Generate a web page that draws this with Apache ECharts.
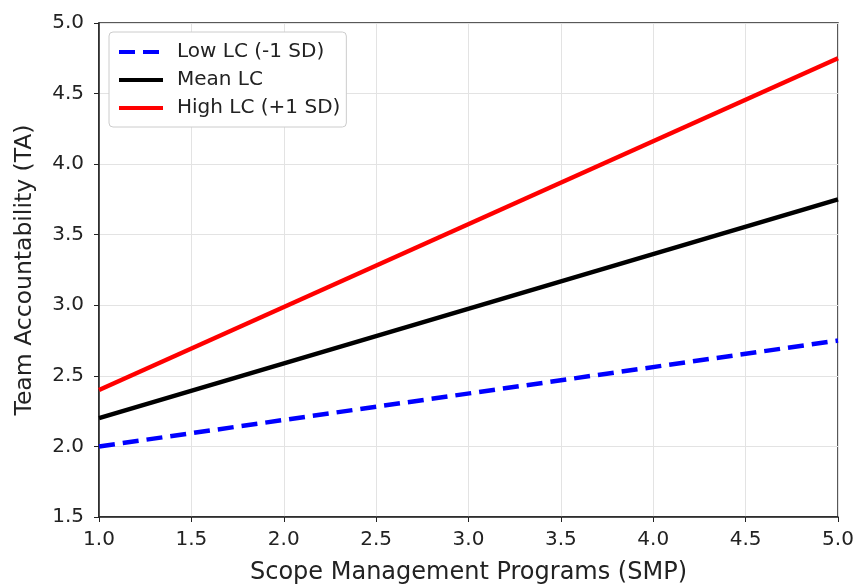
<!DOCTYPE html>
<html><head><meta charset="utf-8">
<script src="https://cdn.jsdelivr.net/npm/echarts@6/dist/echarts.min.js"></script>
<style>html,body{margin:0;padding:0;background:#fff}#c{width:857px;height:586px}</style>
</head><body><div id="c"></div>
<script>
const xValues = [1.0, 5.0];
const lowLC = [2.0, 2.75];
const meanLC = [2.2, 3.75];
const highLC = [2.4, 4.75];
const seriesNames = ['Low LC (-1 SD)', 'Mean LC', 'High LC (+1 SD)'];
const xTitle = 'Scope Management Programs (SMP)';
const yTitle = 'Team Accountability (TA)';

const font = 'DejaVu Sans';
const chart = echarts.init(document.getElementById('c'));
function mk(name, vals, color, type) {
  return {
    name, type: 'line', data: xValues.map((x, i) => [x, vals[i]]),
    showSymbol: false, symbol: 'none',
    lineStyle: { color, width: 4.5, type }, itemStyle: { color },
    z: 5
  };
}
chart.setOption({
  animation: false,
  grid: { left: 99, right: 19, top: 23, bottom: 69, outerBoundsMode: 'none', containLabel: false, show: true, borderColor: '#222', borderWidth: 1.5, backgroundColor: 'transparent' },
  legend: {
    left: 109, top: 32, orient: 'vertical', itemWidth: 44, itemHeight: 14, itemGap: 8,
    padding: [10, 6, 9, 8],
    backgroundColor: '#fff', borderColor: '#ccc', borderWidth: 1, borderRadius: 4,
    itemStyle: { opacity: 0 },
    lineStyle: { width: 4 },
    textStyle: { fontFamily: font, fontSize: 20, color: '#222', padding: [0, 0, 0, 9] },
    data: seriesNames
  },
  xAxis: {
    type: 'value', min: 1.0, max: 5.0, interval: 0.5,
    name: xTitle, nameLocation: 'middle', nameGap: 44,
    nameTextStyle: { fontFamily: font, fontSize: 24, color: '#222' },
    axisLine: { show: true, lineStyle: { color: '#222', width: 1.5 } },
    axisTick: { show: true, length: 5, lineStyle: { color: '#222' } },
    axisLabel: { fontFamily: font, fontSize: 20, color: '#222', margin: 13, formatter: v => v.toFixed(1) },
    splitLine: { show: true, lineStyle: { color: '#e3e3e3', width: 1 } }
  },
  yAxis: {
    type: 'value', min: 1.5, max: 5.0, interval: 0.5,
    name: yTitle, nameLocation: 'middle', nameGap: 62,
    nameTextStyle: { fontFamily: font, fontSize: 23.5, color: '#222' },
    axisLine: { show: true, lineStyle: { color: '#222', width: 1.5 } },
    axisTick: { show: true, length: 5, lineStyle: { color: '#222' } },
    axisLabel: { fontFamily: font, fontSize: 20, color: '#222', margin: 15, formatter: v => v.toFixed(1) },
    splitLine: { show: true, lineStyle: { color: '#e3e3e3', width: 1 } }
  },
  series: [
    mk(seriesNames[0], lowLC, '#0000ff', [16, 8]),
    mk(seriesNames[1], meanLC, '#000000', 'solid'),
    mk(seriesNames[2], highLC, '#ff0000', 'solid')
  ]
});
</script></body></html>
